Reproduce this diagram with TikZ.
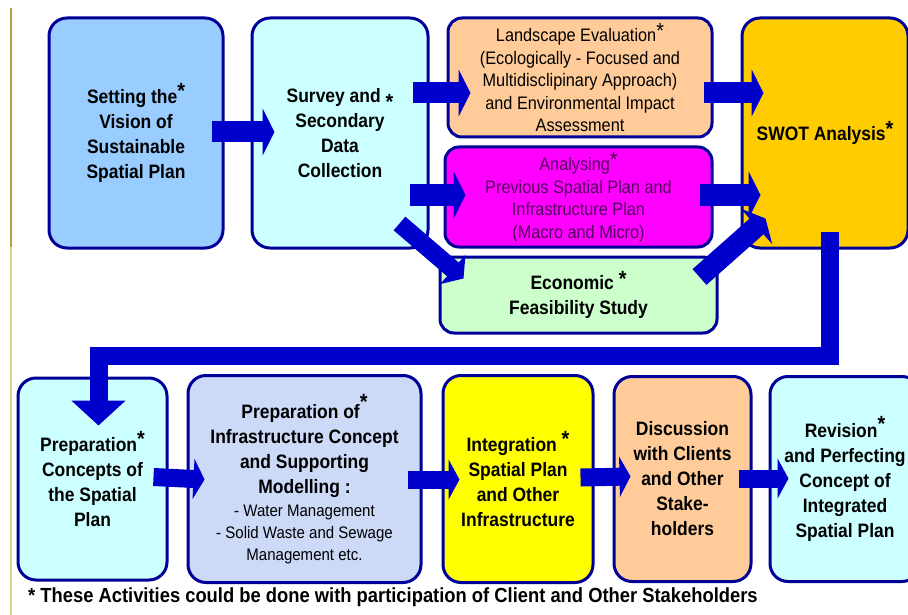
\documentclass[tikz,border=0pt]{standalone}
\usepackage{fontspec}
\setmainfont[FakeStretch=0.9]{Liberation Sans}
\usetikzlibrary{arrows.meta, positioning}

\definecolor{navyline}{RGB}{0,0,153}
\definecolor{flowblue}{RGB}{0,0,204}
\definecolor{skyfill}{RGB}{153,204,255}
\definecolor{icefill}{RGB}{204,255,255}
\definecolor{peachfill}{RGB}{255,204,153}
\definecolor{pinkfill}{RGB}{255,0,255}
\definecolor{pinktext}{RGB}{80,0,90}
\definecolor{mintfill}{RGB}{204,255,204}
\definecolor{goldfill}{RGB}{255,204,0}
\definecolor{lilacfill}{RGB}{204,217,247}
\definecolor{lemonfill}{RGB}{255,255,0}
\definecolor{slideline}{RGB}{176,160,64}
\definecolor{slidelight}{RGB}{222,212,130}

\newcommand{\stmark}[1][0.3em]{\raisebox{#1}{\fontsize{22}{22}\selectfont *}}
\newcommand{\regline}{\fontseries{m}\fontsize{16.7}{25}\selectfont}

\begin{document}
\begin{tikzpicture}[
    x=1pt, y=-1pt,
    stage/.style={draw=navyline, line width=3pt, rounded corners=18pt, inner sep=0pt,
                  align=center, font=\bfseries\fontsize{19.4}{25}\selectfont},
    plain/.style={font=\fontsize{18.1}{22.5}\selectfont, rounded corners=14pt},
    flow/.style={draw=flowblue, line width=21pt, -{Triangle[length=12pt, width=47pt]}},
    lowflow/.style={draw=flowblue, line width=18pt, -{Triangle[length=11pt, width=40pt]}},
    loopflow/.style={draw=flowblue, line width=18pt, line join=miter,
                     -{Triangle[length=25pt, width=53pt]}}
]
\useasboundingbox (0,0) rectangle (908,615);
\draw[slideline, line width=1.2pt] (11,8) -- (11,247);
\draw[slidelight, line width=1.2pt] (11,247) -- (11,615);

% top row
\node[stage, fill=skyfill, minimum width=174pt, minimum height=230pt] (vision) at (136,133)
    {Setting the\stmark[0.25em]\\Vision of\\Sustainable\\Spatial Plan};
\node[stage, fill=icefill, minimum width=176pt, minimum height=230pt, right=26pt of vision] (survey)
    {Survey and \stmark[-0.35em]\\Secondary\\Data\\Collection};
\node[stage, plain, fill=peachfill, minimum width=264pt, minimum height=119pt] (landscape) at (580,77.5)
    {Landscape Evaluation\stmark[0.2em]\\(Ecologically - Focused and\\Multidisclipinary Approach)\\and Environmental Impact\\Assessment};
\node[stage, plain, fill=pinkfill, text=pinktext, minimum width=267pt, minimum height=100pt] (previous) at (578.5,197)
    {Analysing\stmark[0.2em]\\Previous Spatial Plan and\\Infrastructure Plan\\(Macro and Micro)};
\node[stage, fill=mintfill, rounded corners=14pt, minimum width=277pt, minimum height=76pt] (economic) at (578.5,295)
    {Economic \stmark[0.2em]\\Feasibility Study};
\node[stage, fill=goldfill, minimum width=166pt, minimum height=230pt] (swot) at (825,133)
    {SWOT Analysis\stmark[0.25em]};

% bottom row
\node[stage, fill=icefill, minimum width=149pt, minimum height=202pt] (concept) at (92.5,479)
    {Preparation\stmark[0.25em]\\Concepts of\\the Spatial\\Plan};
\node[stage, fill=lilacfill, minimum width=233pt, minimum height=207pt, right=18pt of concept] (infra)
    {Preparation of\stmark[0.45em]\\Infrastructure Concept\\and Supporting\\Modelling :\\[-2pt]
     \regline - Water Management\\[-3pt]
     \regline - Solid Waste and Sewage\\[-3pt]\regline Management etc.};
\node[stage, fill=lemonfill, minimum width=150pt, minimum height=207pt, right=19pt of infra] (integration)
    {Integration \stmark[0.3em]\\Spatial Plan\\and Other\\Infrastructure};
\node[stage, fill=peachfill, minimum width=137pt, minimum height=205pt, right=18pt of integration] (discussion)
    {Discussion\\with Clients\\and Other\\Stake-\\holders};
\node[stage, fill=icefill, minimum width=150pt, minimum height=205pt, right=16pt of discussion] (revision)
    {Revision\stmark[0.3em]\\and Perfecting\\Concept of\\Integrated\\Spatial Plan};

\node[anchor=west, inner sep=0pt, font=\bfseries\fontsize{20.4}{22}\selectfont] (note) at (28,597)
    {* These Activities could be done with participation of Client and Other Stakeholders};

% connectors
\draw[flow] ([shift={(-13,-1)}]vision.east) -- ([shift={(24,-1)}]survey.west);
\draw[flow] ([shift={(-17,-40)}]survey.east) -- ([shift={(24,15.5)}]landscape.west);
\draw[flow] ([shift={(-20,62)}]survey.east) -- ([shift={(22,-2)}]previous.west);
\draw[draw=flowblue, line width=18pt, -{Triangle[length=14pt, width=38pt]}]
    ([shift={(-30,-26)}]survey.south east) -- ([shift={(25,23)}]economic.north west);
\draw[flow] ([shift={(-10,15.5)}]landscape.east) -- ([shift={(23,-40)}]swot.west);
\draw[flow] ([shift={(-14,-2)}]previous.east) -- ([shift={(20,62)}]swot.west);
\draw[flow] ([shift={(-19,-18)}]economic.east) -- ([shift={(25,-31)}]swot.south west);
\draw[loopflow] ([shift={(5,-18)}]swot.south) -- ++(0,124) -| ([shift={(6,49)}]concept.north);

\draw[lowflow] ([shift={(-15,-2)}]concept.east) -- ([shift={(18,0.5)}]infra.west);
\draw[lowflow] ([shift={(-15,0.5)}]infra.east) -- ([shift={(18,0.5)}]integration.west);
\draw[lowflow] ([shift={(-14,-1.5)}]integration.east) -- ([shift={(18,-2.5)}]discussion.west);
\draw[lowflow] ([shift={(-14,-0.5)}]discussion.east) -- ([shift={(20,-0.5)}]revision.west);
\end{tikzpicture}
\end{document}
